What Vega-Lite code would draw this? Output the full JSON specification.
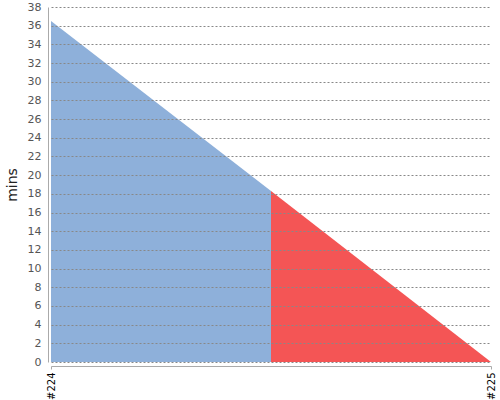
{
  "$schema": "https://vega.github.io/schema/vega-lite/v6.json",
  "width": 440,
  "height": 355,
  "autosize": {"type": "none"},
  "padding": {"left": 51, "top": 7, "right": 9, "bottom": 38},
  "background": "white",
  "config": {"view": {"stroke": null}},
  "data": {"values": [
    {"x": 0, "mins": 36.5, "part": "a"},
    {"x": 1, "mins": 18.3, "part": "a"},
    {"x": 1, "mins": 18.3, "part": "b"},
    {"x": 2, "mins": 0, "part": "b"}
  ]},
  "mark": {"type": "area", "opacity": 1, "interpolate": "linear"},
  "encoding": {
    "x": {"field": "x", "type": "quantitative",
      "scale": {"domain": [0, 2], "nice": false, "zero": false},
      "axis": {"values": [0, 2], "title": null, "grid": false, "offset": 4,
        "labelExpr": "datum.value == 0 ? '#224' : '#225'",
        "labelAngle": -90, "labelAlign": "right", "labelBaseline": "middle",
        "labelFont": "DejaVu Sans", "labelFontSize": 10, "labelColor": "#000",
        "labelPadding": 3, "tickSize": 3, "tickColor": "#aaa", "domainColor": "#aaa"}},
    "y": {"field": "mins", "type": "quantitative", "stack": null,
      "scale": {"domain": [0, 38], "nice": false},
      "axis": {"values": [0,2,4,6,8,10,12,14,16,18,20,22,24,26,28,30,32,34,36,38],
        "title": "mins", "titleFont": "DejaVu Sans", "titleFontSize": 14, "titleFontWeight": "normal",
        "titleColor": "#222", "titlePadding": 8,
        "offset": 3, "ticks": false, "labelPadding": 7,
        "labelFont": "DejaVu Sans", "labelFontSize": 11, "labelColor": "#555",
        "domainColor": "#aaa", "zindex": 1,
        "grid": true, "gridDash": [2, 2], "gridColor": "#888", "gridWidth": 1}},
    "color": {"field": "part", "type": "nominal",
      "scale": {"domain": ["a", "b"], "range": ["#8eb0da", "#f45555"]},
      "legend": null}
  }
}
